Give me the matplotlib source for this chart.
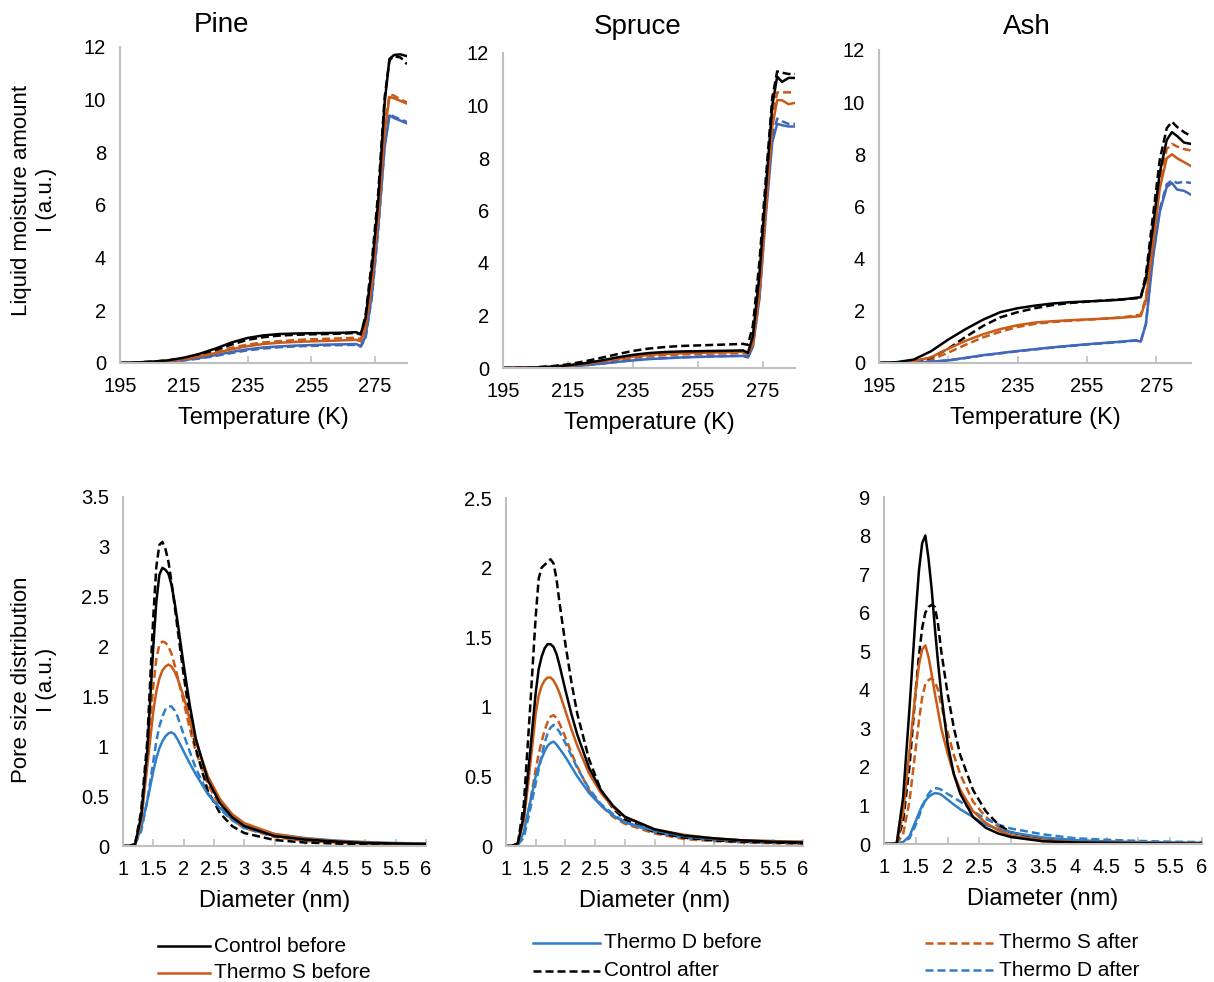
import matplotlib
matplotlib.use("Agg")
import matplotlib.pyplot as plt
from matplotlib.lines import Line2D

plt.rcParams['font.family'] = ['Liberation Sans', 'DejaVu Sans']

# ---- data: liquid moisture vs temperature ----
temp = [195, 200, 205, 210, 215, 220, 225, 230, 235, 240, 245, 250, 255,
        260, 265, 269, 270.5, 272, 274, 276, 278, 279.5, 281, 283, 285]

pine_t_ctrl_b = [0, 0.02, 0.05, 0.1, 0.2, 0.35, 0.55, 0.78, 0.95, 1.05, 1.1, 1.12, 1.13,
                 1.14, 1.15, 1.17, 1.1, 1.7, 3.6, 6.2, 9.9, 11.55, 11.7, 11.72, 11.65]
pine_t_ctrl_a = [0, 0.02, 0.05, 0.1, 0.18, 0.32, 0.5, 0.7, 0.88, 0.98, 1.04, 1.07, 1.09,
                 1.1, 1.12, 1.14, 1.08, 1.8, 3.9, 6.5, 10.1, 11.5, 11.65, 11.6, 11.35]
pine_t_ts_b = [0, 0.02, 0.04, 0.08, 0.14, 0.25, 0.38, 0.52, 0.64, 0.72, 0.77, 0.8, 0.82,
               0.84, 0.86, 0.88, 0.82, 1.3, 3.0, 5.6, 8.8, 10.1, 10.05, 9.95, 9.85]
pine_t_ts_a = [0, 0.02, 0.04, 0.08, 0.16, 0.28, 0.43, 0.58, 0.7, 0.78, 0.83, 0.87, 0.9,
               0.92, 0.94, 0.96, 0.9, 1.4, 3.2, 5.8, 9.0, 10.2, 10.15, 10.0, 9.9]
pine_t_td_b = [0, 0.01, 0.03, 0.06, 0.11, 0.19, 0.3, 0.42, 0.52, 0.59, 0.63, 0.66, 0.68,
               0.7, 0.71, 0.72, 0.65, 1.0, 2.6, 5.2, 8.2, 9.4, 9.3, 9.2, 9.1]
pine_t_td_a = [0, 0.01, 0.03, 0.06, 0.1, 0.17, 0.27, 0.38, 0.48, 0.55, 0.6, 0.63, 0.65,
               0.67, 0.68, 0.69, 0.62, 0.95, 2.5, 5.1, 8.3, 9.45, 9.35, 9.25, 9.15]

spruce_t_ctrl_b = [0, 0.01, 0.02, 0.05, 0.1, 0.18, 0.28, 0.4, 0.5, 0.57, 0.61, 0.63, 0.64,
                   0.65, 0.66, 0.67, 0.58, 1.2, 3.5, 6.8, 10.0, 11.1, 10.9, 11.05, 11.05]
spruce_t_ctrl_a = [0, 0.01, 0.03, 0.07, 0.14, 0.25, 0.38, 0.52, 0.65, 0.74, 0.8, 0.84, 0.86,
                   0.88, 0.9, 0.92, 0.88, 1.6, 4.0, 7.2, 10.3, 11.3, 11.25, 11.2, 11.2]
spruce_t_ts_b = [0, 0.01, 0.02, 0.04, 0.08, 0.15, 0.24, 0.34, 0.43, 0.5, 0.54, 0.56, 0.58,
                 0.59, 0.6, 0.62, 0.55, 0.9, 2.8, 6.0, 9.2, 10.2, 10.2, 10.05, 10.1]
spruce_t_ts_a = [0, 0.01, 0.02, 0.04, 0.08, 0.14, 0.22, 0.31, 0.39, 0.45, 0.49, 0.52, 0.54,
                 0.55, 0.56, 0.58, 0.52, 1.0, 3.0, 6.3, 9.5, 10.5, 10.5, 10.5, 10.5]
spruce_t_td_b = [0, 0.01, 0.015, 0.03, 0.06, 0.1, 0.16, 0.23, 0.29, 0.34, 0.37, 0.4, 0.42,
                 0.44, 0.45, 0.46, 0.4, 0.8, 2.6, 5.8, 8.6, 9.3, 9.25, 9.2, 9.2]
spruce_t_td_a = [0, 0.01, 0.015, 0.03, 0.06, 0.1, 0.16, 0.23, 0.3, 0.35, 0.38, 0.41, 0.43,
                 0.45, 0.46, 0.47, 0.42, 0.85, 2.7, 5.9, 8.8, 9.5, 9.4, 9.3, 9.3]

ash_t_ctrl_b = [0, 0.03, 0.13, 0.45, 0.9, 1.3, 1.66, 1.95, 2.1, 2.2, 2.28, 2.33, 2.36,
                2.39, 2.43, 2.5, 2.52, 3.2, 5.2, 7.3, 8.55, 8.85, 8.7, 8.45, 8.4]
ash_t_ctrl_a = [0, 0.02, 0.06, 0.2, 0.55, 1.0, 1.42, 1.75, 1.95, 2.1, 2.22, 2.3, 2.35,
                2.4, 2.44, 2.48, 2.5, 3.4, 5.6, 7.8, 9.0, 9.25, 9.05, 8.85, 8.7]
ash_t_ts_b = [0, 0.02, 0.07, 0.22, 0.55, 0.85, 1.1, 1.3, 1.45, 1.55, 1.6, 1.64, 1.67,
              1.7, 1.74, 1.78, 1.8, 2.4, 4.5, 6.7, 7.85, 8.0, 7.85, 7.7, 7.55]
ash_t_ts_a = [0, 0.01, 0.04, 0.12, 0.4, 0.7, 0.98, 1.2, 1.38, 1.5, 1.57, 1.62, 1.66,
              1.7, 1.75, 1.82, 1.85, 2.5, 4.7, 7.0, 8.2, 8.4, 8.3, 8.2, 8.15]
ash_t_td_b = [0, 0.01, 0.02, 0.05, 0.1, 0.2, 0.3, 0.38, 0.46, 0.53, 0.6, 0.66, 0.72,
              0.77, 0.82, 0.87, 0.82, 1.5, 4.0, 5.8, 6.75, 6.9, 6.65, 6.6, 6.45]
ash_t_td_a = [0, 0.01, 0.02, 0.05, 0.1, 0.19, 0.29, 0.37, 0.45, 0.52, 0.59, 0.65, 0.71,
              0.76, 0.81, 0.86, 0.83, 1.5, 4.1, 5.9, 6.85, 7.0, 6.9, 6.95, 6.9]

# ---- data: pore size distribution vs diameter ----
diam = [1.0, 1.1, 1.2, 1.3, 1.4, 1.5, 1.55, 1.6, 1.65, 1.7, 1.75, 1.8, 1.85, 1.9,
        2.0, 2.1, 2.2, 2.4, 2.6, 2.8, 3.0, 3.5, 4.0, 4.5, 5.0, 5.5, 6.0]

pine_d_ctrl_b = [0, 0, 0.02, 0.3, 0.95, 2.0, 2.45, 2.72, 2.79, 2.77, 2.73, 2.62, 2.45, 2.25,
                 1.82, 1.42, 1.08, 0.66, 0.43, 0.29, 0.2, 0.1, 0.065, 0.045, 0.03, 0.025, 0.02]
pine_d_ctrl_a = [0, 0, 0.02, 0.35, 1.05, 2.3, 2.8, 3.02, 3.05, 2.98, 2.85, 2.65, 2.42, 2.18,
                 1.72, 1.3, 0.98, 0.55, 0.33, 0.2, 0.13, 0.06, 0.035, 0.025, 0.015, 0.012, 0.01]
pine_d_ts_b = [0, 0, 0.02, 0.25, 0.8, 1.35, 1.55, 1.68, 1.76, 1.8, 1.82, 1.8, 1.75, 1.68,
               1.5, 1.27, 1.05, 0.7, 0.47, 0.32, 0.23, 0.12, 0.075, 0.05, 0.035, 0.025, 0.02]
pine_d_ts_a = [0, 0, 0.02, 0.25, 0.9, 1.6, 1.88, 2.02, 2.05, 2.04, 2.0, 1.93, 1.82, 1.7,
               1.45, 1.18, 0.95, 0.62, 0.4, 0.26, 0.18, 0.09, 0.05, 0.035, 0.025, 0.02, 0.015]
pine_d_td_b = [0, 0, 0.02, 0.18, 0.45, 0.75, 0.88, 0.98, 1.05, 1.1, 1.13, 1.14, 1.12, 1.07,
               0.95, 0.83, 0.72, 0.52, 0.38, 0.28, 0.21, 0.12, 0.08, 0.055, 0.04, 0.03, 0.025]
pine_d_td_a = [0, 0, 0.02, 0.15, 0.45, 0.85, 1.05, 1.2, 1.3, 1.37, 1.4, 1.4, 1.36, 1.3,
               1.12, 0.95, 0.78, 0.53, 0.37, 0.26, 0.18, 0.1, 0.06, 0.04, 0.03, 0.025, 0.02]

spruce_d_ctrl_b = [0, 0, 0.02, 0.22, 0.65, 1.1, 1.27, 1.36, 1.42, 1.45, 1.45, 1.43, 1.38, 1.3,
                   1.12, 0.95, 0.8, 0.56, 0.4, 0.29, 0.21, 0.12, 0.075, 0.055, 0.04, 0.03, 0.025]
spruce_d_ctrl_a = [0, 0, 0.02, 0.3, 0.95, 1.65, 1.92, 2.0, 2.02, 2.04, 2.06, 2.03, 1.92, 1.75,
                   1.45, 1.18, 0.95, 0.62, 0.4, 0.27, 0.19, 0.1, 0.06, 0.04, 0.03, 0.025, 0.02]
spruce_d_ts_b = [0, 0, 0.02, 0.18, 0.55, 0.95, 1.08, 1.15, 1.19, 1.21, 1.21, 1.19, 1.15, 1.1,
                 0.97, 0.84, 0.72, 0.52, 0.38, 0.28, 0.21, 0.12, 0.08, 0.055, 0.04, 0.035, 0.03]
spruce_d_ts_a = [0, 0, 0.01, 0.08, 0.3, 0.55, 0.66, 0.75, 0.83, 0.89, 0.93, 0.94, 0.92, 0.88,
                 0.78, 0.67, 0.57, 0.4, 0.29, 0.21, 0.16, 0.09, 0.05, 0.035, 0.025, 0.02, 0.015]
spruce_d_td_b = [0, 0, 0.01, 0.1, 0.3, 0.5, 0.57, 0.63, 0.68, 0.72, 0.74, 0.75, 0.73, 0.7,
                 0.64, 0.57, 0.5, 0.38, 0.29, 0.22, 0.17, 0.11, 0.07, 0.05, 0.04, 0.035, 0.03]
spruce_d_td_a = [0, 0, 0.01, 0.06, 0.25, 0.45, 0.55, 0.65, 0.74, 0.81, 0.85, 0.87, 0.85, 0.82,
                 0.74, 0.65, 0.56, 0.41, 0.3, 0.23, 0.17, 0.1, 0.06, 0.045, 0.03, 0.025, 0.02]

ash_d_ctrl_b = [0, 0, 0.02, 1.2, 3.5, 6.0, 7.1, 7.8, 8.0, 7.4, 6.6, 5.6, 4.7, 3.9,
                2.6, 1.8, 1.3, 0.7, 0.42, 0.27, 0.18, 0.07, 0.04, 0.03, 0.02, 0.015, 0.01]
ash_d_ctrl_a = [0, 0, 0.02, 0.6, 2.0, 4.0, 4.9, 5.6, 6.0, 6.15, 6.2, 6.15, 5.7, 5.0,
                3.9, 3.0, 2.3, 1.4, 0.85, 0.5, 0.3, 0.12, 0.06, 0.04, 0.03, 0.025, 0.02]
ash_d_ts_b = [0, 0, 0.02, 0.8, 2.4, 4.0, 4.65, 5.05, 5.15, 4.85, 4.4, 3.9, 3.45, 3.0,
              2.35, 1.8, 1.4, 0.85, 0.55, 0.35, 0.22, 0.1, 0.05, 0.04, 0.03, 0.025, 0.02]
ash_d_ts_a = [0, 0, 0.01, 0.25, 1.1, 2.5, 3.2, 3.8, 4.15, 4.25, 4.3, 4.2, 4.0, 3.6,
              2.9, 2.3, 1.8, 1.1, 0.7, 0.45, 0.3, 0.12, 0.06, 0.04, 0.03, 0.025, 0.02]
ash_d_td_b = [0, 0, 0.01, 0.05, 0.2, 0.6, 0.8, 1.0, 1.12, 1.22, 1.28, 1.32, 1.31, 1.28,
              1.15, 1.02, 0.9, 0.7, 0.5, 0.38, 0.3, 0.17, 0.1, 0.07, 0.05, 0.04, 0.03]
ash_d_td_a = [0, 0, 0.01, 0.04, 0.15, 0.5, 0.72, 0.95, 1.15, 1.3, 1.4, 1.45, 1.44, 1.41,
              1.3, 1.2, 1.1, 0.85, 0.65, 0.5, 0.4, 0.25, 0.15, 0.11, 0.08, 0.06, 0.05]

species = ['Pine', 'Spruce', 'Ash']
series_labels = ['Control before', 'Thermo S before', 'Thermo D before',
                 'Control after', 'Thermo S after', 'Thermo D after']
temp_ticks = [195, 215, 235, 255, 275]
diam_ticks = [1, 1.5, 2, 2.5, 3, 3.5, 4, 4.5, 5, 5.5, 6]
diam_ticklabels = ['1', '1.5', '2', '2.5', '3', '3.5', '4', '4.5', '5', '5.5', '6']
pine_d_yticks = [0, 0.5, 1, 1.5, 2, 2.5, 3, 3.5]
spruce_d_yticks = [0, 0.5, 1, 1.5, 2, 2.5]
ash_d_yticks = [0, 1, 2, 3, 4, 5, 6, 7, 8, 9]

# ---- styling ----
BLACK = '#000000'
ORANGE = '#C95B17'
BLUE_TOP = '#3F68B8'
BLUE_BOT = '#2F7FC8'
GRID = '#BFBFBF'
DASH = (0, (3.2, 1.6))

W, H = 1214, 982
fig = plt.figure(figsize=(W / 100, H / 100), dpi=100)


def box(l, t, r, b):
    return [l / W, 1 - b / H, (r - l) / W, (b - t) / H]


def style_axes(ax):
    for s in ['top', 'right']:
        ax.spines[s].set_visible(False)
    for s in ['left', 'bottom']:
        ax.spines[s].set_color(GRID)
        ax.spines[s].set_linewidth(1.5)
    ax.tick_params(axis='x', direction='in', length=5, width=1.2, color=GRID,
                   labelsize=14.5, pad=10)
    ax.tick_params(axis='y', length=0, labelsize=14.5, pad=10)


top_boxes = [box(120, 47, 407, 363), box(503, 53, 795, 368), box(879, 50, 1191, 363)]
bot_boxes = [box(123, 497, 426, 846), box(506, 498, 803, 846), box(884, 497, 1202, 844)]

top_data = [
    [pine_t_ctrl_b, pine_t_ts_b, pine_t_td_b, pine_t_ctrl_a, pine_t_ts_a, pine_t_td_a],
    [spruce_t_ctrl_b, spruce_t_ts_b, spruce_t_td_b, spruce_t_ctrl_a, spruce_t_ts_a, spruce_t_td_a],
    [ash_t_ctrl_b, ash_t_ts_b, ash_t_td_b, ash_t_ctrl_a, ash_t_ts_a, ash_t_td_a],
]
bot_data = [
    [pine_d_ctrl_b, pine_d_ts_b, pine_d_td_b, pine_d_ctrl_a, pine_d_ts_a, pine_d_td_a],
    [spruce_d_ctrl_b, spruce_d_ts_b, spruce_d_td_b, spruce_d_ctrl_a, spruce_d_ts_a, spruce_d_td_a],
    [ash_d_ctrl_b, ash_d_ts_b, ash_d_td_b, ash_d_ctrl_a, ash_d_ts_a, ash_d_td_a],
]
bot_yticks = [pine_d_yticks, spruce_d_yticks, ash_d_yticks]

top_colors = [BLACK, ORANGE, BLUE_TOP, BLACK, ORANGE, BLUE_TOP]
bot_colors = [BLACK, ORANGE, BLUE_BOT, BLACK, ORANGE, BLUE_BOT]
styles = ['-', '-', '-', DASH, DASH, DASH]
# draw order: dashed lines beneath solid
order = [4, 5, 3, 2, 1, 0]

for i in range(3):
    ax = fig.add_axes(top_boxes[i])
    for k in order:
        ax.plot(temp, top_data[i][k], color=top_colors[k], linestyle=styles[k], lw=1.8)
    ax.set_xlim(195, 285)
    ax.set_ylim(0, 12)
    ax.set_xticks(temp_ticks)
    ax.set_yticks(range(0, 13, 2))
    style_axes(ax)
    ax.set_xlabel('Temperature (K)', fontsize=17, labelpad=8)

    ax = fig.add_axes(bot_boxes[i])
    for k in order:
        ax.plot(diam, bot_data[i][k], color=bot_colors[k], linestyle=styles[k], lw=1.8)
    ax.set_xlim(1, 6)
    yt = bot_yticks[i]
    ax.set_ylim(0, yt[-1])
    ax.set_xticks(diam_ticks)
    ax.set_xticklabels(diam_ticklabels)
    ax.set_yticks(yt)
    ax.set_yticklabels([('%g' % v) for v in yt])
    style_axes(ax)
    ax.set_xlabel('Diameter (nm)', fontsize=17, labelpad=8)

# panel titles
for name, (x, y) in zip(species, [(222, 25), (638, 27), (1027, 27)]):
    fig.text(x / W, 1 - y / H, name, fontsize=20, ha='center', va='center')

# y labels
fig.text(34 / W, 1 - 200 / H, 'Liquid moisture amount\nI (a.u.)', rotation=90,
         fontsize=16, ha='center', va='center', multialignment='center', linespacing=1.2)
fig.text(34 / W, 1 - 680 / H, 'Pore size distribution\nI (a.u.)', rotation=90,
         fontsize=16, ha='center', va='center', multialignment='center', linespacing=1.2)

# legend (three staggered columns)
leg_pos = [(158, 210, 946), (158, 210, 973), (533, 600, 943),
           (533, 600, 971), (925, 995, 943), (925, 995, 970)]
leg_colors = [BLACK, ORANGE, BLUE_BOT, BLACK, ORANGE, BLUE_BOT]
for (x0, x1, y), lab, col, ls in zip(leg_pos, series_labels, leg_colors, styles):
    fig.add_artist(Line2D([x0 / W, x1 / W], [1 - y / H, 1 - y / H],
                          color=col, linestyle=ls, lw=1.8, transform=fig.transFigure))
    fig.text((x1 + 4) / W, 1 - y / H, lab, fontsize=15, ha='left', va='center')

fig.savefig('out.png', dpi=100)
